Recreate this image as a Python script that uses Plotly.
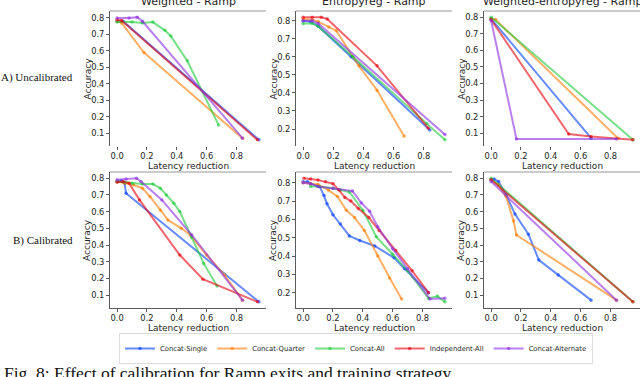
import plotly.graph_objects as go

W, H = 640, 377

series_names = ["Concat-Single", "Concat-Quarter", "Concat-All", "Independent-All", "Concat-Alternate"]
series_colors = ["rgba(2,62,255,0.6)", "rgba(255,124,0,0.6)", "rgba(26,201,56,0.6)",
                 "rgba(232,0,11,0.6)", "rgba(139,43,226,0.6)"]

col_titles = ["Weighted - Ramp", "Entropyreg - Ramp", "Weighted-entropyreg - Ramp"]
row_titles = ["A) Uncalibrated", "B) Calibrated"]
x_ticks = [0.0, 0.2, 0.4, 0.6, 0.8]
y_ticks = [0.1, 0.2, 0.3, 0.4, 0.5, 0.6, 0.7, 0.8]
x_label = "Latency reduction"
y_label = "Accuracy"
caption = "Fig. 8: Effect of calibration for Ramp exits and training strategy."

# ---- A) Uncalibrated, Weighted - Ramp
a1_single_x = [0, 0.04, 0.95]
a1_single_y = [0.78, 0.78, 0.06]
a1_quarter_x = [0, 0.03, 0.18, 0.84]
a1_quarter_y = [0.78, 0.77, 0.59, 0.07]
a1_all_x = [0, 0.1, 0.17, 0.24, 0.32, 0.36, 0.47, 0.68]
a1_all_y = [0.775, 0.775, 0.77, 0.775, 0.725, 0.69, 0.54, 0.15]
a1_indep_x = [0, 0.03, 0.94]
a1_indep_y = [0.79, 0.785, 0.06]
a1_alt_x = [0, 0.08, 0.135, 0.17, 0.84]
a1_alt_y = [0.80, 0.80, 0.805, 0.78, 0.07]

# ---- A) Uncalibrated, Entropyreg - Ramp
a2_single_x = [0, 0.05, 0.1, 0.32, 0.84]
a2_single_y = [0.80, 0.795, 0.77, 0.60, 0.195]
a2_quarter_x = [0, 0.06, 0.1, 0.17, 0.22, 0.37, 0.49, 0.67]
a2_quarter_y = [0.81, 0.805, 0.795, 0.765, 0.745, 0.55, 0.415, 0.16]
a2_all_x = [0, 0.06, 0.1, 0.33, 0.82, 0.94]
a2_all_y = [0.785, 0.785, 0.77, 0.60, 0.23, 0.14]
a2_indep_x = [0, 0.06, 0.12, 0.16, 0.49, 0.83]
a2_indep_y = [0.82, 0.82, 0.82, 0.81, 0.55, 0.205]
a2_alt_x = [0, 0.06, 0.1, 0.94]
a2_alt_y = [0.80, 0.80, 0.785, 0.17]

# ---- A) Uncalibrated, Weighted-entropyreg - Ramp
a3_single_x = [0, 0.67]
a3_single_y = [0.79, 0.07]
a3_quarter_x = [0, 0.03, 0.85]
a3_quarter_y = [0.79, 0.785, 0.07]
a3_all_x = [0, 0.95]
a3_all_y = [0.80, 0.06]
a3_indep_x = [0, 0.52, 0.67, 0.95]
a3_indep_y = [0.785, 0.095, 0.08, 0.06]
a3_alt_x = [0, 0.17, 0.84]
a3_alt_y = [0.78, 0.065, 0.065]

# ---- B) Calibrated, Weighted - Ramp
b1_single_x = [0, 0.03, 0.05, 0.06, 0.95]
b1_single_y = [0.78, 0.785, 0.77, 0.71, 0.06]
b1_quarter_x = [0, 0.05, 0.11, 0.17, 0.22, 0.29, 0.34, 0.43, 0.49, 0.6, 0.72, 0.84]
b1_quarter_y = [0.78, 0.77, 0.76, 0.74, 0.69, 0.61, 0.55, 0.50, 0.46, 0.34, 0.22, 0.07]
b1_all_x = [0, 0.05, 0.1, 0.17, 0.24, 0.29, 0.33, 0.38, 0.42, 0.5, 0.58, 0.67]
b1_all_y = [0.78, 0.775, 0.77, 0.765, 0.765, 0.74, 0.70, 0.65, 0.60, 0.445, 0.29, 0.155]
b1_indep_x = [0, 0.04, 0.08, 0.15, 0.42, 0.575, 0.94]
b1_indep_y = [0.775, 0.78, 0.77, 0.67, 0.34, 0.195, 0.06]
b1_alt_x = [0, 0.06, 0.13, 0.16, 0.3, 0.5, 0.84]
b1_alt_y = [0.79, 0.795, 0.80, 0.78, 0.67, 0.46, 0.07]

# ---- B) Calibrated, Entropyreg - Ramp
b2_single_x = [0, 0.03, 0.05, 0.11, 0.14, 0.16, 0.2, 0.25, 0.31, 0.38, 0.48, 0.61, 0.68, 0.84]
b2_single_y = [0.805, 0.805, 0.795, 0.78, 0.73, 0.685, 0.625, 0.575, 0.51, 0.485, 0.455, 0.39, 0.33, 0.20]
b2_quarter_x = [0, 0.05, 0.1, 0.17, 0.23, 0.29, 0.345, 0.41, 0.5, 0.58, 0.66]
b2_quarter_y = [0.80, 0.795, 0.79, 0.76, 0.725, 0.65, 0.61, 0.54, 0.40, 0.28, 0.165]
b2_all_x = [0.05, 0.1, 0.2, 0.25, 0.31, 0.4, 0.49, 0.6, 0.7, 0.84, 0.9, 0.95]
b2_all_y = [0.78, 0.78, 0.77, 0.76, 0.75, 0.65, 0.505, 0.41, 0.32, 0.17, 0.18, 0.15]
b2_indep_x = [0.005, 0.05, 0.1, 0.15, 0.2, 0.24, 0.28, 0.32, 0.37, 0.44, 0.51, 0.62, 0.73, 0.84]
b2_indep_y = [0.825, 0.82, 0.815, 0.805, 0.795, 0.76, 0.72, 0.70, 0.66, 0.61, 0.54, 0.43, 0.32, 0.20]
b2_alt_x = [0, 0.05, 0.1, 0.2, 0.33, 0.39, 0.445, 0.5, 0.6, 0.7, 0.85, 0.95]
b2_alt_y = [0.80, 0.795, 0.78, 0.77, 0.755, 0.69, 0.645, 0.56, 0.44, 0.33, 0.165, 0.17]

# ---- B) Calibrated, Weighted-entropyreg - Ramp
b3_single_x = [0, 0.02, 0.05, 0.1, 0.16, 0.25, 0.32, 0.45, 0.67]
b3_single_y = [0.79, 0.795, 0.78, 0.70, 0.585, 0.465, 0.31, 0.22, 0.07]
b3_quarter_x = [0, 0.05, 0.1, 0.15, 0.17, 0.84]
b3_quarter_y = [0.79, 0.76, 0.69, 0.545, 0.46, 0.07]
b3_all_x = [0, 0.95]
b3_all_y = [0.80, 0.06]
b3_indep_x = [0, 0.95]
b3_indep_y = [0.79, 0.06]
b3_alt_x = [0, 0.84]
b3_alt_y = [0.78, 0.07]

panels = [
    [(a1_single_x, a1_single_y), (a1_quarter_x, a1_quarter_y), (a1_all_x, a1_all_y), (a1_indep_x, a1_indep_y), (a1_alt_x, a1_alt_y)],
    [(a2_single_x, a2_single_y), (a2_quarter_x, a2_quarter_y), (a2_all_x, a2_all_y), (a2_indep_x, a2_indep_y), (a2_alt_x, a2_alt_y)],
    [(a3_single_x, a3_single_y), (a3_quarter_x, a3_quarter_y), (a3_all_x, a3_all_y), (a3_indep_x, a3_indep_y), (a3_alt_x, a3_alt_y)],
    [(b1_single_x, b1_single_y), (b1_quarter_x, b1_quarter_y), (b1_all_x, b1_all_y), (b1_indep_x, b1_indep_y), (b1_alt_x, b1_alt_y)],
    [(b2_single_x, b2_single_y), (b2_quarter_x, b2_quarter_y), (b2_all_x, b2_all_y), (b2_indep_x, b2_indep_y), (b2_alt_x, b2_alt_y)],
    [(b3_single_x, b3_single_y), (b3_quarter_x, b3_quarter_y), (b3_all_x, b3_all_y), (b3_indep_x, b3_indep_y), (b3_alt_x, b3_alt_y)],
]

# pixel layout of the panels
col_px = [(110, 266), (296, 452), (484, 640)]
row_px = [(11, 146), (172, 308)]

FONT = "DejaVu Sans"
SERIF = "Liberation Serif"
TXT = "#262626"
SPINE = "#5a5a5a"

fig = go.Figure()
layout = dict(
    width=W, height=H, margin=dict(l=0, r=0, t=0, b=0),
    paper_bgcolor="white", plot_bgcolor="white",
    font=dict(family=FONT, color=TXT),
    showlegend=True,
    legend=dict(orientation="h", x=119 / W, y=1 - 333 / H, xanchor="left", yanchor="top",
                font=dict(size=6.8, family=FONT, color=TXT), bgcolor="white",
                bordercolor="#dcdcdc", borderwidth=1, itemwidth=30),
)
annotations = []
shapes = []


def margin_range(vals):
    lo, hi = min(vals), max(vals)
    span = hi - lo
    return [lo - 0.05 * span, hi + 0.05 * span]


for p, series in enumerate(panels):
    r, c = divmod(p, 3)
    idx = p + 1
    xa = "x" if idx == 1 else f"x{idx}"
    ya = "y" if idx == 1 else f"y{idx}"
    for s, (xs, ys) in enumerate(series):
        fig.add_trace(go.Scatter(
            x=xs, y=ys, mode="lines+markers", name=series_names[s],
            line=dict(color=series_colors[s], width=2),
            marker=dict(color=series_colors[s], size=3.5),
            xaxis=xa, yaxis=ya, showlegend=(p == 0)))
    all_x = [v for xs, _ in series for v in xs]
    all_y = [v for _, ys in series for v in ys]
    x0, x1 = col_px[c]
    t0, t1 = row_px[r]
    ylo, yhi = margin_range(all_y)
    layout["xaxis" if idx == 1 else f"xaxis{idx}"] = dict(
        domain=[x0 / W, x1 / W], anchor=ya, range=margin_range(all_x),
        tickvals=x_ticks, ticktext=[f"{v:.1f}" for v in x_ticks],
        ticks="outside", ticklen=2.5, tickcolor=SPINE, tickwidth=0.8,
        showgrid=False, zeroline=False, showline=(r == 1), linecolor=SPINE, linewidth=1,
        tickfont=dict(size=8.3, family=FONT, color=TXT))
    layout["yaxis" if idx == 1 else f"yaxis{idx}"] = dict(
        domain=[1 - t1 / H, 1 - t0 / H], anchor=xa, range=[ylo, yhi],
        tickvals=[v for v in y_ticks if ylo <= v <= yhi],
        ticktext=[f"{v:.1f}" for v in y_ticks if ylo <= v <= yhi],
        ticks="outside", ticklen=3, tickcolor=SPINE, tickwidth=0.8,
        showgrid=False, zeroline=False, showline=True, linecolor=SPINE, linewidth=1,
        tickfont=dict(size=8.3, family=FONT, color=TXT))
    # top spine
    shapes.append(dict(type="line", xref=f"{xa} domain", yref=f"{ya} domain",
                       x0=0, x1=1, y0=1, y1=1, line=dict(color="#9a9a9a", width=1.2)))
    # axis labels
    annotations.append(dict(text=x_label, x=(x0 + x1) / 2 / W, y=1 - (t1 + 20) / H,
                            xref="paper", yref="paper", showarrow=False,
                            xanchor="center", yanchor="middle",
                            font=dict(size=9, family=FONT, color=TXT)))
    annotations.append(dict(text=y_label, x=(x0 - 23) / W, y=1 - (t0 + t1) / 2 / H,
                            xref="paper", yref="paper", showarrow=False, textangle=-90,
                            xanchor="center", yanchor="middle",
                            font=dict(size=9, family=FONT, color=TXT)))
    if r == 0:
        annotations.append(dict(text=col_titles[c], x=(x0 + x1) / 2 / W, y=1 - 10 / H,
                                xref="paper", yref="paper", showarrow=False,
                                xanchor="center", yanchor="bottom",
                                font=dict(size=11, family=FONT, color=TXT)))

annotations.append(dict(text=row_titles[0], x=37 / W, y=1 - 78 / H, xref="paper", yref="paper",
                        showarrow=False, xanchor="center", yanchor="middle",
                        font=dict(size=11, family=SERIF, color="#111")))
annotations.append(dict(text=row_titles[1], x=42.5 / W, y=1 - 240 / H, xref="paper", yref="paper",
                        showarrow=False, xanchor="center", yanchor="middle",
                        font=dict(size=11, family=SERIF, color="#111")))
annotations.append(dict(text=caption, x=2 / W, y=1 - 361 / H, xref="paper", yref="paper",
                        showarrow=False, xanchor="left", yanchor="top",
                        font=dict(size=17.5, family=SERIF, color="#111")))

layout["annotations"] = annotations
layout["shapes"] = shapes
fig.update_layout(**layout)
fig.write_html("out.html", config={"displayModeBar": False},
               post_script="document.body.style.margin='0';document.body.style.overflow='hidden';")
